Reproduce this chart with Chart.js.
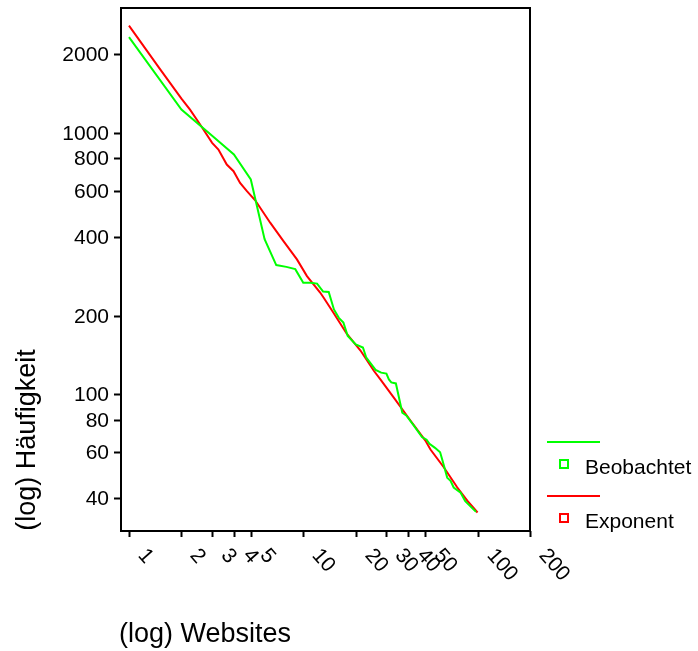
<!DOCTYPE html>
<html>
<head>
<meta charset="utf-8">
<script src="https://cdn.jsdelivr.net/npm/chart.js@4"></script>
<style>
  body { margin: 0; background: #fff; }
</style>
</head>
<body>
<canvas id="myChart" width="698" height="651"></canvas>
<script>
// Beobachtet: rank vs frequency
const obsRanks = [1, 2, 3, 4, 5, 6, 7, 8, 9, 10, 11, 12, 13, 14, 15, 16, 17, 18, 20, 22, 23, 26, 28, 30, 31, 32, 34, 37, 39, 43, 48, 51, 53, 57, 61, 63, 67, 70, 73, 80, 85, 98]
const obsFreq = [2323, 1226, 974, 826, 663, 392, 312, 307, 301, 267, 267, 265, 247, 246, 211, 196, 188, 167, 155, 151, 138, 124, 121, 120, 114, 111, 110, 85, 83, 76, 68.6, 67, 64.6, 62.4, 60, 55.7, 48, 46.7, 44, 42, 39, 35.5]

// Exponent (fitted curve)
const expRanks = [1, 1.5, 2, 2.24, 2.56, 3.0, 3.26, 3.64, 3.98, 4.34, 4.75, 5.3, 6.46, 7.7, 9.2, 10.5, 12.5, 13.1, 14.9, 17.8, 21.3, 25.4, 27.7, 33, 41.2, 50.2, 53.7, 64, 76.4, 87.3, 100]
const expFreq = [2570, 1760, 1350, 1226, 1075, 915, 863, 756, 713, 643, 598, 552, 453, 385, 328, 283, 245, 234, 205, 170, 147, 123, 114, 97.3, 79.4, 66.5, 61.5, 52.6, 44.1, 39.2, 35.3]

const xTicks = [1, 2, 3, 4, 5, 10, 20, 30, 40, 50, 100, 200]
const yTicks = [40, 60, 80, 100, 200, 400, 600, 800, 1000, 2000]

const seriesNames = ["Beobachtet", "Exponent"]
const seriesColors = ["#00ff00", "#ff0000"]

const xTitle = "(log) Websites"
const yTitle = "(log) Häufigkeit"

const FONT = '"Liberation Sans", Arial, sans-serif'

function toPoints(xs, ys){
  let pts = []
  xs.forEach((x, i) => {
    pts.push({x: x, y: ys[i]})
  })
  return pts
}

// axes, frame and legend are drawn by hand to get the old-style layout
const frameAndLabels = {
  id: "frameAndLabels",
  afterDraw(chart){
    const ctx = chart.ctx
    const area = chart.chartArea
    const xs = chart.scales.x
    const ys = chart.scales.y
    ctx.save()

    ctx.strokeStyle = "#000"
    ctx.lineWidth = 2
    ctx.strokeRect(area.left, area.top, area.right - area.left, area.bottom - area.top)

    // y ticks
    ctx.fillStyle = "#000"
    ctx.font = "21px " + FONT
    ctx.textAlign = "right"
    ctx.textBaseline = "middle"
    yTicks.forEach(v => {
      let py = Math.round(ys.getPixelForValue(v)) + 0.5
      ctx.beginPath()
      ctx.moveTo(area.left - 7, py)
      ctx.lineTo(area.left, py)
      ctx.stroke()
      ctx.fillText(String(v), area.left - 12, py + 1)
    })

    // x ticks, labels turned down to the right
    ctx.textAlign = "left"
    xTicks.forEach(v => {
      let px = Math.round(xs.getPixelForValue(v)) + 0.5
      ctx.beginPath()
      ctx.moveTo(px, area.bottom)
      ctx.lineTo(px, area.bottom + 6)
      ctx.stroke()
      ctx.save()
      ctx.translate(px + 12, area.bottom + 21)
      ctx.rotate(Math.PI * 0.27)
      ctx.fillText(String(v), 0, 0)
      ctx.restore()
    })

    // axis titles
    ctx.font = "27px " + FONT
    ctx.textAlign = "left"
    ctx.textBaseline = "alphabetic"
    ctx.fillText(xTitle, 119, 642)
    ctx.save()
    ctx.translate(35, 440)
    ctx.rotate(-Math.PI / 2)
    ctx.textAlign = "center"
    ctx.fillText(yTitle, 0, 0)
    ctx.restore()

    // legend
    ctx.font = "21px " + FONT
    ctx.textBaseline = "middle"
    ctx.textAlign = "left"
    let legendTop = [442, 496]
    seriesNames.forEach((name, i) => {
      let ly = legendTop[i]
      ctx.strokeStyle = seriesColors[i]
      ctx.lineWidth = 2
      ctx.beginPath()
      ctx.moveTo(547, ly)
      ctx.lineTo(600, ly)
      ctx.stroke()
      ctx.fillStyle = "#fff"
      ctx.fillRect(560, ly + 18, 8, 8)
      ctx.strokeRect(560, ly + 18, 8, 8)
      ctx.fillStyle = "#000"
      ctx.fillText(name, 585, ly + 26)
    })
    ctx.restore()
  }
}

new Chart("myChart", {
  type: "line",
  data: {
    datasets: [{
      label: seriesNames[0],
      data: toPoints(obsRanks, obsFreq),
      borderColor: seriesColors[0],
      borderWidth: 2,
      pointRadius: 0,
      tension: 0,
      fill: false
    }, {
      label: seriesNames[1],
      data: toPoints(expRanks, expFreq),
      borderColor: seriesColors[1],
      borderWidth: 2,
      pointRadius: 0,
      tension: 0,
      fill: false
    }]
  },
  options: {
    responsive: false,
    animation: false,
    layout: {
      padding: {left: 121, top: 8, right: 168, bottom: 120}
    },
    scales: {
      x: {type: "logarithmic", min: 0.9, max: 200, display: false},
      y: {type: "logarithmic", min: 30, max: 3000, display: false}
    },
    plugins: {
      legend: {display: false},
      tooltip: {enabled: false}
    }
  },
  plugins: [frameAndLabels]
})
</script>
</body>
</html>
